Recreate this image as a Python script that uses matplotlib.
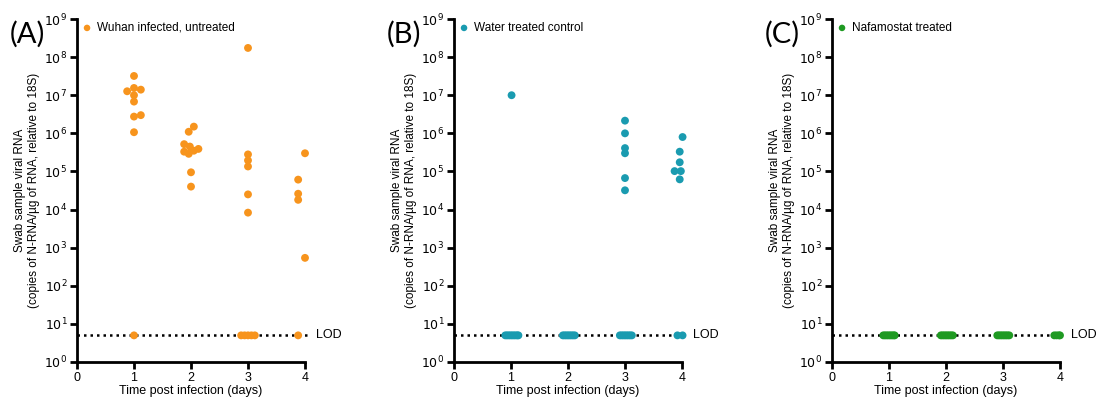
import matplotlib
matplotlib.use("Agg")
import matplotlib.pyplot as plt
import numpy as np

plt.rcParams["mathtext.fontset"] = "custom"
plt.rcParams["mathtext.rm"] = "Liberation Sans"
plt.rcParams["mathtext.it"] = "Liberation Sans:italic"
plt.rcParams["mathtext.bf"] = "Liberation Sans:bold"

LOD = 5.0

# Panel A: Wuhan infected, untreated (orange)
a_day = [0.88, 1.00, 1.12, 1.00, 1.00, 1.00, 1.00, 1.12, 1.00, 1.00,
         2.05, 1.96, 1.88, 1.98, 1.88, 1.96, 2.05, 2.13, 2.00, 2.00,
         3.00, 3.00, 3.00, 3.00, 3.00, 3.00, 2.88, 2.94, 3.00, 3.06, 3.12,
         4.00, 3.88, 3.88, 3.88, 4.00, 3.88]
a_val = [1.27e7, 3.2e7, 1.4e7, 1.55e7, 1.0e7, 6.8e6, 2.75e6, 3.0e6, 1.07e6, LOD,
         1.5e6, 1.1e6, 5.2e5, 4.5e5, 3.3e5, 2.9e5, 3.5e5, 3.9e5, 9.5e4, 4.0e4,
         1.74e8, 2.8e5, 1.95e5, 1.35e5, 2.5e4, 8.3e3, LOD, LOD, LOD, LOD, LOD,
         3.0e5, 6.1e4, 2.6e4, 1.8e4, 540, LOD]

# Panel B: Water treated control (teal)
b_day = [1.01,
         3.00, 3.00, 3.00, 3.00, 3.00, 3.00,
         4.01, 3.96, 3.96, 3.87, 3.98, 3.96,
         0.90, 0.93, 0.96, 0.99, 1.02, 1.05, 1.08, 1.11, 1.13,
         1.91, 1.94, 1.97, 2.00, 2.03, 2.06, 2.09, 2.12,
         2.91, 2.94, 2.97, 3.00, 3.03, 3.06, 3.09, 3.12,
         3.92, 4.01]
b_val = [1.0e7,
         2.15e6, 1.0e6, 4.1e5, 3.0e5, 6.7e4, 3.2e4,
         8.0e5, 3.3e5, 1.74e5, 1.02e5, 1.02e5, 6.2e4,
         LOD, LOD, LOD, LOD, LOD, LOD, LOD, LOD, LOD,
         LOD, LOD, LOD, LOD, LOD, LOD, LOD, LOD,
         LOD, LOD, LOD, LOD, LOD, LOD, LOD, LOD,
         LOD, LOD]

# Panel C: Nafamostat treated (green)
c_day = [0.90, 0.93, 0.96, 0.99, 1.02, 1.05, 1.08, 1.10,
         1.91, 1.94, 1.97, 2.00, 2.03, 2.06, 2.09, 2.12,
         2.90, 2.93, 2.96, 2.99, 3.02, 3.05, 3.08, 3.11,
         3.90, 3.94, 3.98, 4.00]
c_val = [LOD] * len(c_day)

panels = [
    ("(A)", "Wuhan infected, untreated", "#F7941D", a_day, a_val),
    ("(B)", "Water treated control", "#1A9BB0", b_day, b_val),
    ("(C)", "Nafamostat treated", "#1F9A22", c_day, c_val),
]

xticks = [0, 1, 2, 3, 4]
yticks = [10.0 ** k for k in range(0, 10)]

W, H = 1096, 401
fig = plt.figure(figsize=(W / 100, H / 100), dpi=100)

lefts = [77, 454, 832]
ax_w = 228
top_px, bot_px = 19, 362

font_main = ["Liberation Sans", "DejaVu Sans"]

for left, (lab, name, col, xs, ys) in zip(lefts, panels):
    ax = fig.add_axes([left / W, 1 - bot_px / H, ax_w / W, (bot_px - top_px) / H])
    ax.set_yscale("log")
    ax.set_xlim(0, 4)
    ax.set_ylim(1, 1e9)
    ax.plot([0, 4.05], [LOD, LOD], linestyle=(0, (1, 1.6)), color="black",
            linewidth=1.8, zorder=1, clip_on=False)
    ax.scatter(xs, ys, s=32, color=col, edgecolors="none", zorder=3, clip_on=False)
    ax.text(4.2, LOD, "LOD", fontsize=9, va="center", ha="left",
            family=font_main)
    for s in ["top", "right"]:
        ax.spines[s].set_visible(False)
    for s in ["left", "bottom"]:
        ax.spines[s].set_linewidth(2)
    ax.set_xticks(xticks)
    ax.set_xticklabels([str(t) for t in xticks], family=font_main, fontsize=9)
    ax.set_yticks(yticks)
    ax.set_yticklabels([r"$\mathregular{10^{%d}}$" % k for k in range(0, 10)], fontsize=9)
    ax.yaxis.set_minor_locator(matplotlib.ticker.NullLocator())
    ax.tick_params(axis="both", which="major", width=2, length=5, pad=2)
    ax.set_xlabel("Time post infection (days)", fontsize=9, family=font_main, labelpad=1)
    ax.set_ylabel("Swab sample viral RNA\n(copies of N-RNA/µg of RNA, relative to 18S)",
                  fontsize=8.5, family=font_main, labelpad=3, linespacing=1.25)
    ax.scatter([0.044], [0.974], s=22, color=col, edgecolors="none",
               transform=ax.transAxes, clip_on=False)
    ax.text(0.088, 0.974, name, transform=ax.transAxes, fontsize=8.5,
            va="center", ha="left", family=font_main)
    ax.text(-0.295, 0.955, lab, transform=ax.transAxes, fontsize=21,
            va="center", ha="left", family=["Lato", "DejaVu Sans"])

fig.savefig("out.png", dpi=100)
